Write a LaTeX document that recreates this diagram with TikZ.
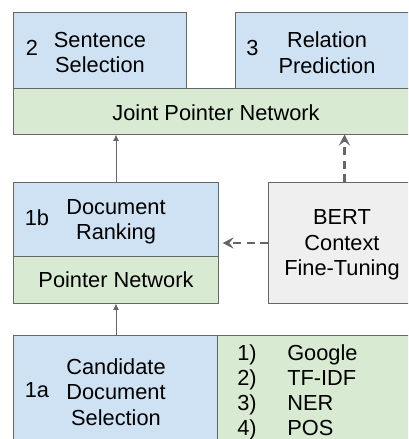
\documentclass[tikz,border=0pt]{standalone}
\usepackage{fontspec}
\setmainfont{Liberation Sans}
\usetikzlibrary{arrows.meta}
\definecolor{boxblue}{HTML}{CFE2F3}
\definecolor{boxgreen}{HTML}{D9EAD3}
\definecolor{boxgray}{HTML}{EFEFEF}
\definecolor{edgegray}{HTML}{666666}
\tikzset{
  box/.style={draw=edgegray, line width=0.7pt, inner sep=0pt},
  lbl/.style={inner sep=0pt, align=center, font=\fontsize{15.5}{18.1}\selectfont},
  solidarr/.style={draw=edgegray, line width=0.7pt, -{Latex[length=1.6mm,width=1.5mm]}},
  dasharr/.style={draw=edgegray, line width=1.9pt, dash pattern=on 2mm off 1.4mm, -{Stealth[length=2.8mm,width=2.8mm,inset=1.1mm]}}
}

\begin{document}
\begin{tikzpicture}[x=0.025cm, y=-0.025cm]
			%%%%% START %%%%%
			\useasboundingbox (0,0) rectangle (408,439);
			\clip (0,0) rectangle (408,439);
			
			\node[box, fill=boxblue, minimum width=4.3cm, minimum height=1.875cm] (sent) at (100,50.5) {};
			\node[box, fill=boxblue, minimum width=4.6cm, minimum height=1.875cm] (rel) at (328,50.5) {};
			\node[box, fill=boxgreen, minimum width=10.15cm, minimum height=1.15cm] (joint) at (217,111) {};
			
			\node[box, fill=boxblue, minimum width=5.1cm, minimum height=1.825cm] (rank) at (116,219.5) {};
			\node[box, fill=boxgreen, minimum width=5.1cm, minimum height=1.175cm] (ptr) at (116,279.5) {};
			\node[box, fill=boxgray, minimum width=3.775cm, minimum height=3cm] (bert) at (344.5,243) {};
			
			\node[box, fill=boxblue, minimum width=5.1cm, minimum height=2.85cm] (cand) at (116,393) {};
			\node[box, fill=boxgreen, minimum width=5.05cm, minimum height=2.85cm] (lst) at (319,393) {};
			
			\node[lbl, anchor=base] (n2) at (32,56) {2};
			\node[lbl] (t2) at (100,52.5) {Sentence\\Selection};
			\node[lbl, anchor=base] (n3) at (252.5,56) {3};
			\node[lbl] (t3) at (327,52.5) {Relation\\Prediction};
			\node[lbl] (tj) at (216,113) {Joint Pointer Network};
			
			\node[lbl, anchor=base] (n1b) at (37,225) {1b};
			\node[lbl] (t1b) at (116,222) {Document\\Ranking};
			\node[lbl] (tp) at (116,279.5) {Pointer Network};
			\node[lbl] (tb) at (342,245) {BERT\\Context\\Fine-Tuning};
			
			\node[lbl, anchor=base] (n1a) at (37,397) {1a};
			\node[lbl] (t1a) at (116,392) {Candidate\\Document\\Selection};
			\foreach \t [count=\i] in {Google, TF-IDF, NER, POS} {
				\node[lbl, anchor=base west] (num\i) at (237,335+25*\i) {\i)};
				\node[lbl, anchor=base west] (item\i) at (287,335+25*\i) {\t};
			}
			
			\draw[solidarr] (cand.north) -- (ptr.south);
			\draw[solidarr] (rank.north) -- (rank.north |- joint.south);
			\draw[dasharr] (bert.north) -- (bert.north |- joint.south);
			\draw[dasharr, shorten >=0.1cm] (bert.west) -- (bert.west -| rank.east);
			
			%%%%% END %%%%%
\end{tikzpicture}
\end{document}
